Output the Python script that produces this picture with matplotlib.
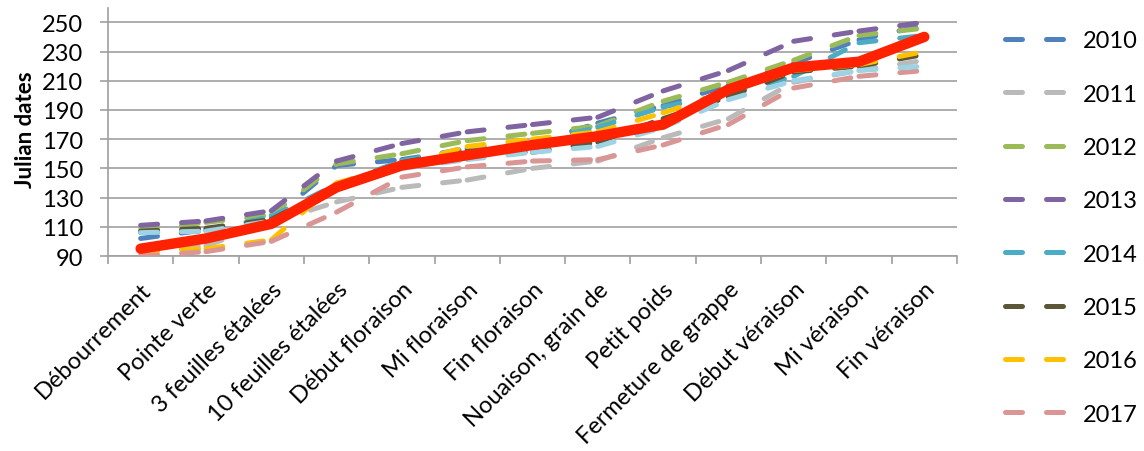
import matplotlib
matplotlib.use("Agg")
import matplotlib.pyplot as plt
from matplotlib.lines import Line2D

plt.rcParams["font.family"] = ["Lato", "DejaVu Sans"]

stades = [
    "Débourrement", "Pointe verte", "3 feuilles étalées", "10 feuilles étalées",
    "Début floraison", "Mi floraison", "Fin floraison", "Nouaison, grain de",
    "Petit poids", "Fermeture de grappe", "Début véraison", "Mi véraison",
    "Fin véraison",
]

annees = ["2010", "2011", "2012", "2013", "2014", "2015", "2016", "2017", "2018"]

j2010 = [102, 108, 115, 152, 156, 163, 167, 181, 193, 207, 222, 238, 248]
j2011 = [92, 97, 113, 127, 137, 142, 150, 155, 171, 184, 209, 217, 224]
j2012 = [108, 113, 118, 153, 160, 169, 174, 179, 196, 209, 224, 241, 246]
j2013 = [111, 114, 121, 155, 167, 175, 180, 185, 203, 217, 237, 244, 250]
j2014 = [106, 107, 117, 139, 155, 164, 168, 178, 192, 201, 213, 236, 241]
j2015 = [107, 109, 115, 138, 154, 162, 161, 168, 184, 199, 216, 220, 228]
j2016 = [93, 95, 101, 140, 152, 165, 170, 175, 188, 203, 217, 221, 230]
j2017 = [90, 93, 100, 120, 144, 151, 155, 156, 166, 180, 205, 213, 217]
j2018 = [106, 107, 114, 136, 150, 156, 161, 165, 178, 197, 210, 217, 220]
moyenne = [95, 102, 112, 137, 152, 159, 166, 172, 180, 204, 219, 223, 240]

series = [j2010, j2011, j2012, j2013, j2014, j2015, j2016, j2017, j2018]
couleurs = ["#4F81BD", "#BABABA", "#9BBB59", "#8064A2", "#4BACC6",
            "#5C5638", "#FFC000", "#DA9694", "#9DD3E4"]

taille = 17

fig = plt.figure(figsize=(11.44, 4.52), dpi=100)
ax = fig.add_axes([0.0944, 0.4314, 0.7421, 0.5494])

x = list(range(len(stades)))
tirets = (3.4, 4.8)
lw = 3.6

# chaque segment repart avec un tiret plein, comme dans Excel
for k, (vals, c) in enumerate(zip(series, couleurs)):
    for i in range(len(x) - 1):
        ax.plot(x[i:i + 2], vals[i:i + 2], color=c, lw=lw, dashes=tirets,
                dash_capstyle="round", zorder=3 + k * 0.1)

ax.plot(x, moyenne, color="#FF2200", lw=7.5, solid_capstyle="round",
        solid_joinstyle="round", zorder=5)

ax.set_xlim(-0.5, len(stades) - 0.5)
ax.set_ylim(90, 260)
ax.set_yticks(range(90, 251, 20))
ax.grid(axis="y", color="#A0A0A0", lw=1.2, zorder=0)

gris = "#A0A0A0"
for s in ["top", "right"]:
    ax.spines[s].set_visible(False)
for s in ["left", "bottom"]:
    ax.spines[s].set_color(gris)
    ax.spines[s].set_linewidth(1.2)

ax.set_xticks(x)
ax.set_xticklabels(stades, rotation=45, ha="right", va="top",
                   rotation_mode="anchor", fontsize=taille)
ax.set_xticks([i - 0.5 for i in range(len(stades) + 1)], minor=True)
ax.tick_params(axis="x", which="major", length=0, pad=16)
ax.tick_params(axis="x", which="minor", length=6, color=gris, width=1.2)
ax.tick_params(axis="y", length=6, color=gris, width=1.2, pad=12,
               labelsize=taille)

fig.text(0.022, 0.712, "Julian dates", rotation=90, fontsize=16,
         fontweight="bold", ha="center", va="center")

poignees = [Line2D([0], [0], color=c, lw=lw, dashes=tirets,
                   dash_capstyle="round") for c in couleurs[:8]]
ax.legend(poignees, annees[:8], loc="upper left",
          bbox_to_anchor=(0.8785, 0.931), bbox_transform=fig.transFigure,
          frameon=False, fontsize=taille, handlelength=2.8,
          handletextpad=0.5, labelspacing=1.37, borderpad=0,
          borderaxespad=0)

fig.savefig("out.png", dpi=100)
